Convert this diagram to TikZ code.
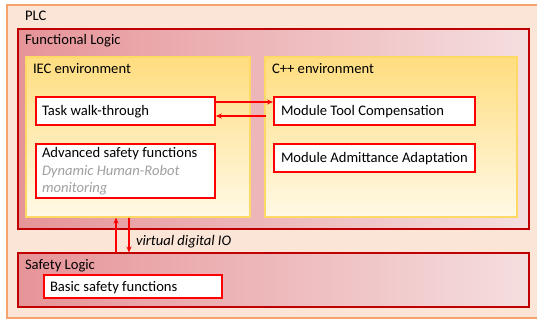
\documentclass[tikz,border=0pt]{standalone}
\usepackage{fontspec}
\setmainfont{Carlito}
\usetikzlibrary{arrows.meta}
\definecolor{plcfill}{HTML}{FBE5D6}
\definecolor{plcline}{HTML}{F4A46A}
\definecolor{darkred}{HTML}{C00000}
\definecolor{redL}{HTML}{E69498}
\definecolor{redR}{HTML}{F5DEDF}
\definecolor{envT}{HTML}{FFDD7F}
\definecolor{envB}{HTML}{FFF9E6}
\definecolor{envline}{HTML}{FFD966}
\definecolor{boxred}{HTML}{FF0000}
\definecolor{subgray}{HTML}{A0A0A0}
\begin{document}
\begin{tikzpicture}[x=1pt,y=-1pt,
  every node/.style={font=\fontsize{14.6}{17}\selectfont, inner sep=0pt, outer sep=0pt},
  lbl/.style={anchor=base west},
  sub/.style={anchor=base west, text=subgray, font=\fontsize{14.6}{17}\selectfont\itshape},
  logicbox/.style={draw=darkred, line width=1.6pt, left color=redL, right color=redR},
  envbox/.style={draw=envline, line width=1.2pt, top color=envT, bottom color=envB},
  fnbox/.style={draw=boxred, line width=1.5pt, fill=white},
  conn/.style={draw=boxred, line width=1.3pt, -{Stealth[length=6pt,width=5pt]}}
]
\useasboundingbox (0,0) rectangle (537,320);
% PLC
\path[draw=plcline, line width=1.3pt, fill=plcfill] (7,5) rectangle (560,318);
\node[lbl] (plc) at (25,21) {PLC};
% Functional Logic
\path[logicbox] (18,29) rectangle (529,229);
\node[lbl] (fl) at (25,45) {Functional Logic};
% Environments
\path[envbox] (26,57) rectangle (250,217);
\node[lbl] (iec) at (33,74) {IEC environment};
\path[envbox] (265,57) rectangle (517,217);
\node[lbl] (cpp) at (272,74) {C++ environment};
\coordinate (iecbot1) at (116,217.6);
\coordinate (iecbot2) at (129,217.6);
% function boxes
\path[fnbox] (36,97) rectangle (215,125);
\node[lbl] (task) at (42,115.5) {Task walk-through};
\coordinate (taskE1) at (215,102);
\coordinate (taskE2) at (215.8,116);
\path[fnbox] (274,97) rectangle (475,125);
\node[lbl] (mtc) at (281,115.5) {Module Tool Compensation};
\coordinate (mtcW1) at (273,102);
\coordinate (mtcW2) at (266,116);
\path[fnbox] (36,144) rectangle (215,198);
\node[lbl] (adv) at (42,158) {Advanced safety functions};
\node[sub] (adv2) at (42,175.5) {Dynamic Human-Robot};
\node[sub] (adv3) at (42,193) {monitoring};
\path[fnbox] (274,144) rectangle (475,172);
\node[lbl] (maa) at (281,162.5) {Module Admittance Adaptation};
% Safety Logic
\path[logicbox] (18,253) rectangle (529,307);
\node[lbl] (sl) at (25,269) {Safety Logic};
\coordinate (slt1) at (116,252.5);
\coordinate (slt2) at (129,252.5);
\path[fnbox] (44,275) rectangle (222,298);
\node[lbl] (bsf) at (50,291) {Basic safety functions};
% connectors
\draw[conn] (taskE1) -- (mtcW1);
\draw[conn] (mtcW2) -- (taskE2);
\draw[conn] (slt1) -- (iecbot1);
\draw[conn] (iecbot2) -- (slt2);
\node[lbl, font=\fontsize{14.6}{17}\selectfont\itshape] (vio) at (136,245) {virtual digital IO};
\end{tikzpicture}
\end{document}
